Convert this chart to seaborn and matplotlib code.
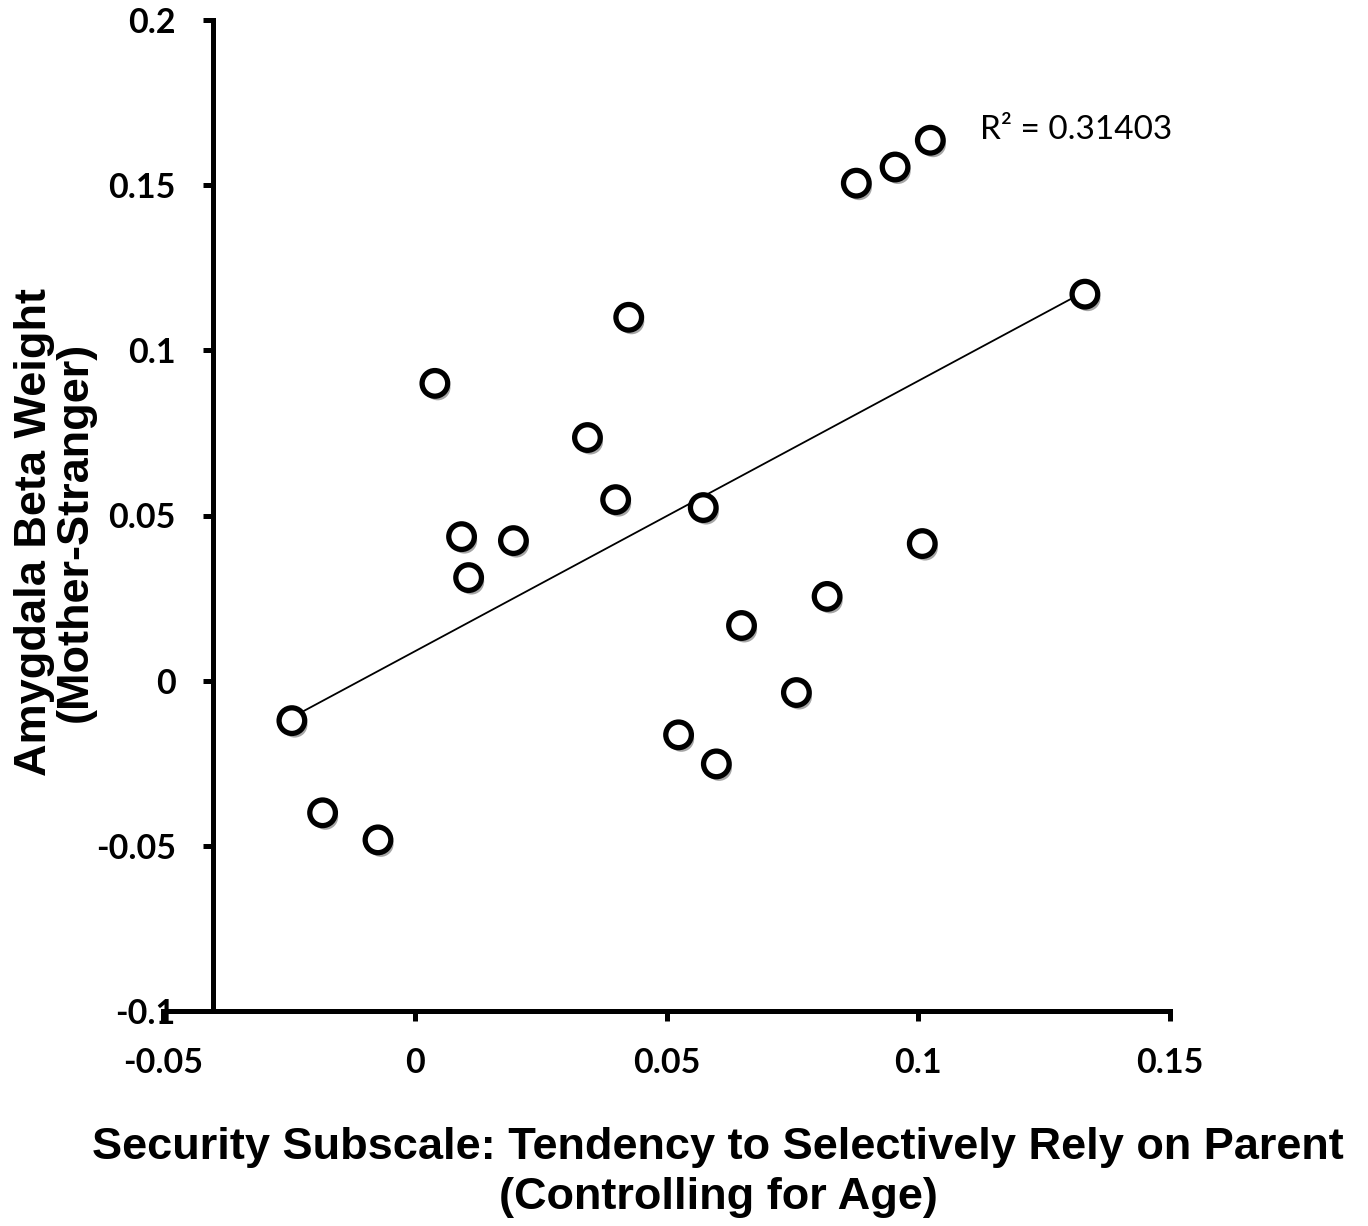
import matplotlib
matplotlib.use("Agg")
import matplotlib.pyplot as plt
import matplotlib.patheffects as pe
import seaborn as sns
import pandas as pd

# valores
seguranca = [-0.0244, -0.0183, -0.0073, 0.0040, 0.0093, 0.0107, 0.0196, 0.0343,
             0.0399, 0.0425, 0.0524, 0.0573, 0.0599, 0.0649, 0.0758, 0.0819,
             0.0877, 0.0954, 0.1024, 0.1008, 0.1331]
amigdala = [-0.0121, -0.0400, -0.0482, 0.0900, 0.0436, 0.0312, 0.0424, 0.0736,
            0.0548, 0.1100, -0.0164, 0.0524, -0.0252, 0.0167, -0.0036, 0.0255,
            0.1506, 0.1555, 0.1636, 0.0415, 0.1170]

x_ticks = [-0.05, 0, 0.05, 0.1, 0.15]
x_labels = ["-0.05", "0", "0.05", "0.1", "0.15"]
y_ticks = [-0.1, -0.05, 0, 0.05, 0.1, 0.15, 0.2]
y_labels = ["-0.1", "-0.05", "0", "0.05", "0.1", "0.15", "0.2"]
r2_texto = "R² = 0.31403"

df = pd.DataFrame({"seguranca": seguranca, "amigdala": amigdala})

sns.set_style("white")
plt.rcParams["font.family"] = ["Lato", "DejaVu Sans"]
plt.rcParams["text.color"] = "black"
plt.rcParams["xtick.color"] = "black"
plt.rcParams["ytick.color"] = "black"

fig = plt.figure(figsize=(13.68, 12.26), dpi=100)
ax = fig.add_axes([163 / 1368, 1 - 1011 / 1226, (1170 - 163) / 1368, (1011 - 20) / 1226])

sns.regplot(data=df, x="seguranca", y="amigdala", ax=ax, scatter=False, ci=None,
            line_kws={"color": "black", "linewidth": 1.3})
sns.scatterplot(data=df, x="seguranca", y="amigdala", ax=ax, s=340,
                facecolor="white", edgecolor="black", linewidth=3.8, zorder=3,
                path_effects=[pe.SimplePatchShadow(offset=(2, -3), alpha=0.35, shadow_rgbFace="black"),
                              pe.Normal()])

ax.set_xlim(-0.05, 0.15)
ax.set_ylim(-0.1, 0.2)
ax.spines["left"].set_position(("data", -0.04))
ax.spines["top"].set_visible(False)
ax.spines["right"].set_visible(False)
for s in ["left", "bottom"]:
    ax.spines[s].set_linewidth(3.6)
    ax.spines[s].set_color("black")

ax.set_xticks(x_ticks)
ax.set_xticklabels(x_labels)
ax.set_yticks(y_ticks)
ax.set_yticklabels(y_labels)
ax.tick_params(axis="both", direction="out", length=7, width=3.6, color="black",
               labelsize=24.5, bottom=True, left=True, labelcolor="black")
ax.tick_params(axis="x", pad=19)
ax.tick_params(axis="y", pad=20)
for lbl in ax.get_xticklabels() + ax.get_yticklabels():
    lbl.set_fontweight("bold")

ax.set_xlabel("")
ax.set_ylabel("")

ax.text(0.1122, 0.1666, r2_texto, fontsize=24, ha="left", va="center")

fig.text(718 / 1368, 1 - 1147 / 1226, "Security Subscale: Tendency to Selectively Rely on Parent",
         family=["Liberation Sans", "DejaVu Sans"], fontweight="bold", fontsize=32.5,
         ha="center", va="center")
fig.text(718 / 1368, 1 - 1197 / 1226, "(Controlling for Age)",
         family=["Liberation Sans", "DejaVu Sans"], fontweight="bold", fontsize=32.5,
         ha="center", va="center")
fig.text(55 / 1368, 1 - 532 / 1226, "Amygdala Beta Weight\n(Mother-Stranger)",
         family=["Liberation Sans", "DejaVu Sans"], fontweight="bold", fontsize=32.5,
         ha="center", va="center", rotation=90, linespacing=1.0)

fig.savefig("out.png", dpi=100)
